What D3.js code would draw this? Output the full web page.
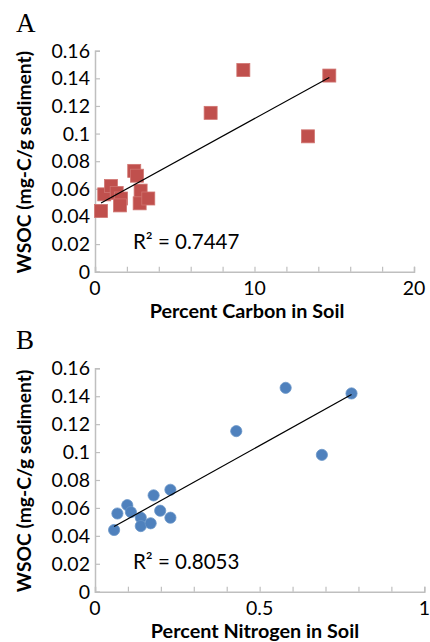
<!DOCTYPE html>
<html>
<head>
<meta charset="utf-8">
<script src="https://cdn.jsdelivr.net/npm/d3@7"></script>
<style>
  body { margin: 0; background: #fff; }
  svg { display: block; }
</style>
</head>
<body>
<div id="chart"></div>
<script>
// WSOC values (same samples in both panels)
var wsoc = [0.044, 0.056, 0.062, 0.057, 0.053, 0.048, 0.073, 0.0695, 0.0587, 0.0495, 0.053, 0.115, 0.146, 0.098, 0.142];
// Percent carbon in soil (panel A)
var carbon = [0.38, 0.58, 1.0, 1.36, 1.63, 1.57, 2.46, 2.63, 2.86, 2.8, 3.34, 7.25, 9.3, 13.35, 14.69];
// Percent nitrogen in soil (panel B)
var nitrogenX = [0.058, 0.068, 0.098, 0.109, 0.139, 0.139, 0.229, 0.178, 0.198, 0.169, 0.229, 0.429, 0.579, 0.689, 0.779];
var nitrogenY = [0.0442, 0.056, 0.062, 0.057, 0.053, 0.047, 0.053, 0.069, 0.058, 0.049, 0.073, 0.115, 0.146, 0.098, 0.142];

var yTicks = [0, 0.02, 0.04, 0.06, 0.08, 0.1, 0.12, 0.14, 0.16];
var yTickLabels = ["0", "0.02", "0.04", "0.06", "0.08", "0.1", "0.12", "0.14", "0.16"];
var xTicksA = [0, 10, 20], xTickLabelsA = ["0", "10", "20"];
var xTicksB = [0, 0.5, 1], xTickLabelsB = ["0", "0.5", "1"];
var r2Labels = ["R\u00b2 = 0.7447", "R\u00b2 = 0.8053"];

var W = 430, H = 642;
var font = "Lato, 'Open Sans', sans-serif";
var axisColor = "#bfbfbf";

var svg = d3.select("#chart").append("svg")
  .attr("width", W).attr("height", H);

// least squares fit, as the spreadsheet trendline does
function fit(xs, ys) {
  var mx = d3.mean(xs), my = d3.mean(ys), sxy = 0, sxx = 0;
  for (var i = 0; i < xs.length; i++) {
    sxy += (xs[i] - mx) * (ys[i] - my);
    sxx += (xs[i] - mx) * (xs[i] - mx);
  }
  var b = sxy / sxx;
  return {b: b, a: my - b * mx};
}

function panel(opt) {
  var g = svg.append("g");
  var x = d3.scaleLinear().domain(opt.xDomain).range([opt.left, opt.right]);
  var y = d3.scaleLinear().domain([0, 0.16]).range([opt.bottom, opt.top]);

  // y axis (ticks point inward)
  var ya = g.append("g")
    .attr("transform", "translate(" + opt.left + ",0)")
    .call(d3.axisRight(y).tickValues(yTicks).tickSize(5).tickFormat(""));
  // x axis
  var xa = g.append("g")
    .attr("transform", "translate(0," + opt.bottom + ")")
    .call(d3.axisTop(x).tickValues(d3.range(opt.xDomain[0], opt.xDomain[1] + opt.minor / 2, opt.minor)).tickSize(5).tickFormat(""));
  [ya, xa].forEach(function(a) {
    a.select(".domain").attr("stroke", axisColor).attr("stroke-width", 1.5);
    a.selectAll(".tick line").attr("stroke", axisColor).attr("stroke-width", 1.2);
  });

  // tick labels
  g.selectAll(".ylab").data(yTicks).enter().append("text")
    .attr("x", opt.left - 5)
    .attr("y", function(d) { return y(d) + 7; })
    .attr("text-anchor", "end")
    .attr("font-family", font).attr("font-size", 19.5).attr("fill", "#000")
    .text(function(d, i) { return yTickLabels[i]; });
  g.selectAll(".xlab").data(opt.xTicks).enter().append("text")
    .attr("x", function(d) { return x(d); })
    .attr("y", opt.bottom + 23.5)
    .attr("text-anchor", "middle")
    .attr("font-family", font).attr("font-size", 19.5).attr("fill", "#000")
    .text(function(d, i) { return opt.xTickLabels[i]; });

  // axis titles
  g.append("text")
    .attr("transform", "translate(" + 31 + "," + ((opt.top + opt.bottom) / 2 + 1) + ") rotate(-90)")
    .attr("text-anchor", "middle")
    .attr("font-family", font).attr("font-weight", "bold").attr("font-size", 19.3)
    .text("WSOC (mg-C/g sediment)");
  g.append("text")
    .attr("x", opt.titleX).attr("y", opt.bottom + 46.5)
    .attr("text-anchor", "middle")
    .attr("font-family", font).attr("font-weight", "bold").attr("font-size", 19.8)
    .text(opt.xTitle);

  // panel letter
  g.append("text")
    .attr("x", 16).attr("y", opt.top - 19)
    .attr("font-family", "'Liberation Serif', 'DejaVu Serif', serif").attr("font-size", 27)
    .text(opt.letter);

  // markers
  if (opt.shape === "square") {
    g.selectAll(".pt").data(opt.xs).enter().append("rect")
      .attr("x", function(d) { return x(d) - 6.5; })
      .attr("y", function(d, i) { return y(opt.ys[i]) - 6.5; })
      .attr("width", 13).attr("height", 13)
      .attr("fill", "#c0504d").attr("stroke", "#d07470").attr("stroke-width", 0.8);
  } else {
    g.selectAll(".pt").data(opt.xs).enter().append("circle")
      .attr("cx", function(d) { return x(d); })
      .attr("cy", function(d, i) { return y(opt.ys[i]); })
      .attr("r", 5.6)
      .attr("fill", "#4f81bd").attr("stroke", "#6a95c8").attr("stroke-width", 0.8);
  }

  // trendline
  var f = fit(opt.xs, opt.ys);
  var x0 = d3.min(opt.xs), x1 = d3.max(opt.xs);
  g.append("line")
    .attr("x1", x(x0)).attr("y1", y(f.a + f.b * x0))
    .attr("x2", x(x1)).attr("y2", y(f.a + f.b * x1))
    .attr("stroke", "#000").attr("stroke-width", 1.2);

  // R² label
  g.append("text")
    .attr("x", opt.left + 38).attr("y", y(0.0165))
    .attr("font-family", font).attr("font-size", 20.5)
    .text(opt.r2);
}

panel({
  letter: "A", left: 95, right: 414, top: 50.7, bottom: 271.7,
  xDomain: [0, 20], minor: 2, xTicks: xTicksA, xTickLabels: xTickLabelsA,
  xs: carbon, ys: wsoc, shape: "square",
  xTitle: "Percent Carbon in Soil", titleX: 247, r2: r2Labels[0]
});
panel({
  letter: "B", left: 95, right: 424.3, top: 368.3, bottom: 591.7,
  xDomain: [0, 1], minor: 0.1, xTicks: xTicksB, xTickLabels: xTickLabelsB,
  xs: nitrogenX, ys: nitrogenY, shape: "circle",
  xTitle: "Percent Nitrogen in Soil", titleX: 255, r2: r2Labels[1]
});
</script>
</body>
</html>
